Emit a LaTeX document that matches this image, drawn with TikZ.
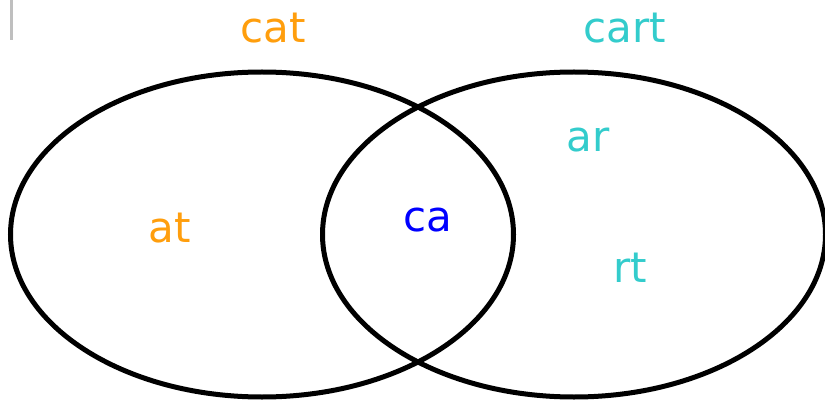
\documentclass[tikz,border=0pt]{standalone}
\usepackage{fontspec}
\setmainfont{DejaVu Sans}
\usepackage{xcolor}
\usetikzlibrary{shapes.geometric}
\definecolor{catorange}{HTML}{FF9E0D}
\definecolor{cartcyan}{HTML}{33CCCC}
\definecolor{bothblue}{HTML}{0000FF}

\begin{document}
\begin{tikzpicture}[
    x=0.5pt, y=-0.5pt,
    set/.style = {ellipse, draw, line width=2.5pt, inner sep=0pt, minimum width=251.5pt, minimum height=162.5pt},
    word/.style = {inner sep=0pt, font=\fontsize{21pt}{24pt}\selectfont}
]
    \useasboundingbox (0,0) rectangle (825,401);
    % Sets
    \node (catset) [set] at (262,234.5) {};
    \node (cartset) [set] at (574,234.5) {};

    % Labels
    \node (catlabel) [word, text=catorange] at (273,28) {cat};
    \node (cartlabel) [word, text=cartcyan] at (625,28) {cart};
    \node (at) [word, text=catorange] at (170,228) {at};
    \node (ca) [word, text=bothblue] at (428,220) {ca};
    \node (ar) [word, text=cartcyan] at (588,140) {ar};
    \node (rt) [word, text=cartcyan] at (630,268) {rt};

    % Marker
    \coordinate (marktop) at (11,0);
    \coordinate (markbot) at (11,40);
    \draw [gray!50, line width=1.5pt] (marktop) -- (markbot);
\end{tikzpicture}
\end{document}
